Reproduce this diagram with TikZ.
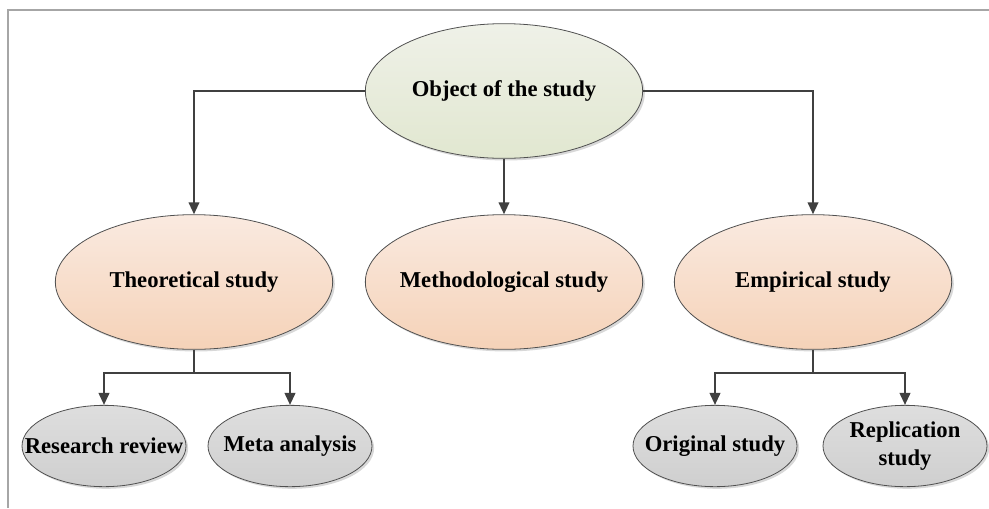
\documentclass[tikz,border=0pt]{standalone}
\usepackage{fontspec}
\setmainfont{Liberation Serif}
\usetikzlibrary{shapes.geometric,arrows.meta,shadows}

\definecolor{framegray}{HTML}{A6A6A6}
\definecolor{linegray}{HTML}{404040}
\definecolor{rimgray}{HTML}{505050}
\definecolor{greentop}{HTML}{EFF1E8}
\definecolor{greenbot}{HTML}{E1E7D0}
\definecolor{peachtop}{HTML}{FAEAE0}
\definecolor{peachbot}{HTML}{F5D2B8}
\definecolor{greytop}{HTML}{DEDEDE}
\definecolor{greybot}{HTML}{CFCFCF}

\tikzset{
  bubble/.style={ellipse, draw=rimgray, line width=0.6pt, inner sep=0pt,
    align=center, font=\fontsize{17}{21}\selectfont\bfseries,
    drop shadow={shadow xshift=1.6pt, shadow yshift=-1.6pt, opacity=0.25, fill=black!60}},
  rootbubble/.style={bubble, minimum width=208pt, minimum height=101pt,
    top color=greentop, bottom color=greenbot},
  midbubble/.style={bubble, minimum width=208pt, minimum height=101pt,
    top color=peachtop, bottom color=peachbot},
  leafbubble/.style={bubble, minimum width=123pt, minimum height=61pt,
    top color=greytop, bottom color=greybot},
  link/.style={draw=linegray, line width=1.4pt,
    -{Triangle[length=9pt,width=8pt]}},
  bar/.style={draw=linegray, line width=1.4pt}
}

\begin{document}
\begin{tikzpicture}[x=0.75pt, y=-0.75pt]
  \useasboundingbox (0,0) rectangle (989,508);
  \fill[white] (0,0) rectangle (989,508);

  % outer frame (open to the right and bottom)
  \draw[framegray, line width=0.8pt] (8,508) -- (8,10) -- (989,10);

  % nodes (labels are zero-width boxes so the ellipses keep their size)
  \node[rootbubble] (obj)  at (504,91)  {\makebox[0pt]{Object of the study}};
  \node[midbubble]  (theo) at (194,282) {\makebox[0pt]{Theoretical study}};
  \node[midbubble]  (meth) at (504,282) {\makebox[0pt]{Methodological study}};
  \node[midbubble]  (emp)  at (813,282) {\makebox[0pt]{Empirical study}};
  \node[leafbubble] (rr)   at (104,446) {\makebox[0pt]{Research review}};
  \node[leafbubble] (ma)   at (290,446) {\makebox[0pt]{Meta analysis}};
  \node[leafbubble] (os)   at (715,446) {\makebox[0pt]{Original study}};
  \node[leafbubble] (rs)   at (905,446) {\makebox[0pt]{Replication}\\\makebox[0pt]{study}};

  % junction points below the second level
  \coordinate (tj) at (194,373);
  \coordinate (ej) at (813,373);

  % connectors
  \draw[link] (obj.west) -| (theo.north);
  \draw[link] (obj.east) -| (emp.north);
  \draw[link] (obj.south) -- (meth.north);

  \draw[bar]  (theo.south) -- (tj);
  \draw[link] (tj) -| (rr.north);
  \draw[link] (tj) -| (ma.north);

  \draw[bar]  (emp.south) -- (ej);
  \draw[link] (ej) -| (os.north);
  \draw[link] (ej) -| (rs.north);
\end{tikzpicture}
\end{document}
